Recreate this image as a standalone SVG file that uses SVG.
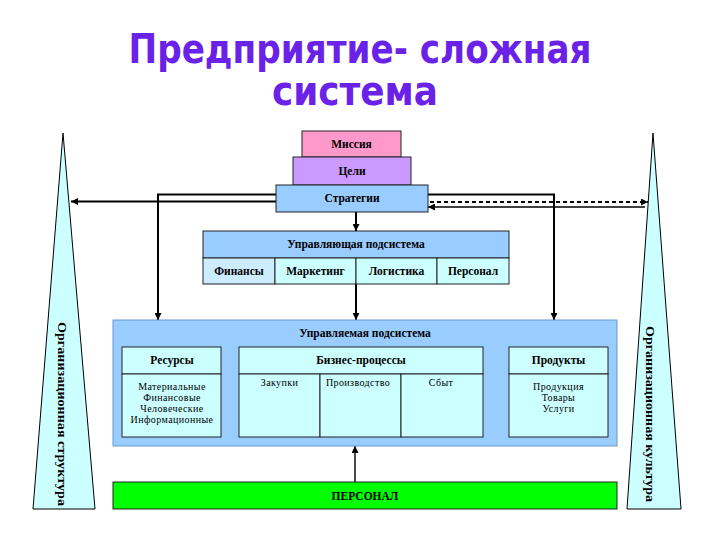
<svg xmlns="http://www.w3.org/2000/svg" width="720" height="540" viewBox="0 0 720 540">
<style>
.t{font-family:"Liberation Serif","Times New Roman",serif;font-weight:bold;font-size:11.5px;fill:#000;text-anchor:middle}
.s{font-family:"Liberation Serif","Times New Roman",serif;font-size:10px;letter-spacing:0.4px;fill:#000;text-anchor:middle}
.title{font-family:"DejaVu Sans","Noto Sans",sans-serif;font-weight:bold;font-size:40px;fill:#6A22E8;text-anchor:middle}
.box{stroke:#222;stroke-width:1}
.ln{fill:none;stroke:#000;stroke-width:2}
.ln1{fill:none;stroke:#000;stroke-width:1.4}
</style>
<defs>
<marker id="ah" viewBox="0 0 10 10" refX="10" refY="5" markerWidth="7" markerHeight="7" markerUnits="userSpaceOnUse" orient="auto">
<path d="M0,0 L10,5 L0,10 z" fill="#000"/>
</marker>
</defs>
<rect width="720" height="540" fill="#fff"/>
<g id="title">
<text class="title" x="360" y="63" textLength="463" lengthAdjust="spacingAndGlyphs">Предприятие- сложная</text>
<text class="title" x="355" y="105" textLength="166" lengthAdjust="spacingAndGlyphs">система</text>
</g>
<g id="org-structure">
<polygon points="63,133 95,509 33,509" fill="#CCFFFF" stroke="#000" stroke-width="1"/>
<text class="t" transform="translate(58,414) rotate(90)" textLength="184" lengthAdjust="spacingAndGlyphs">Организационная структура</text>
</g>
<g id="org-culture">
<polygon points="653,133 681,509 627,509" fill="#CCFFFF" stroke="#000" stroke-width="1"/>
<text class="t" transform="translate(646,414) rotate(90)" textLength="176" lengthAdjust="spacingAndGlyphs">Организационная культура</text>
</g>
<g id="connectors">
<line class="ln" x1="356" y1="212" x2="356" y2="231" marker-end="url(#ah)"/>
<polyline class="ln" points="276,194.5 158,194.5 158,320" marker-end="url(#ah)"/>
<line class="ln" x1="276" y1="201.5" x2="71" y2="201.5" marker-end="url(#ah)"/>
<polyline class="ln" points="428,194.5 554,194.5 554,320" marker-end="url(#ah)"/>
<line class="ln" x1="430" y1="202" x2="648" y2="202" stroke-dasharray="4,3" marker-end="url(#ah)"/>
<line class="ln1" x1="645" y1="207" x2="428" y2="207" marker-end="url(#ah)"/>
<line class="ln" x1="356" y1="284" x2="356" y2="320" marker-end="url(#ah)"/>
<line class="ln1" x1="355" y1="482" x2="355" y2="446" marker-end="url(#ah)"/>
</g>
<g id="mission">
<rect class="box" x="302" y="131" width="99" height="26" fill="#FF99CC"/>
<text class="t" x="351.5" y="148">Миссия</text>
</g>
<g id="goals">
<rect class="box" x="293" y="157" width="118" height="28" fill="#CC99FF"/>
<text class="t" x="352" y="175">Цели</text>
</g>
<g id="strategies">
<rect class="box" x="276" y="185" width="152" height="27" fill="#99CCFF"/>
<text class="t" x="352" y="202">Стратегии</text>
</g>
<g id="managing">
<rect class="box" x="203" y="231" width="306" height="27" fill="#99CCFF"/>
<text class="t" x="356" y="248">Управляющая подсистема</text>
<rect class="box" x="203" y="258" width="72" height="26" fill="#CCECFF"/>
<rect class="box" x="275" y="258" width="81" height="26" fill="#CCFFFF"/>
<rect class="box" x="356" y="258" width="81" height="26" fill="#CCFFFF"/>
<rect class="box" x="437" y="258" width="72" height="26" fill="#CCFFFF"/>
<text class="t" x="239" y="275">Финансы</text>
<text class="t" x="315.5" y="275">Маркетинг</text>
<text class="t" x="396.5" y="275">Логистика</text>
<text class="t" x="473" y="275">Персонал</text>
</g>
<g id="managed">
<rect x="113" y="320" width="504" height="126" fill="#99CCFF" stroke="#6699CC" stroke-width="1"/>
<text class="t" x="365" y="337">Управляемая подсистема</text>
</g>
<g id="resources">
<rect class="box" x="122" y="347" width="99" height="27" fill="#CCFFFF"/>
<rect class="box" x="122" y="374" width="99" height="63" fill="#CCFFFF"/>
<text class="t" x="172" y="364">Ресурсы</text>
<text class="s" x="172" y="390">Материальные</text>
<text class="s" x="172" y="401">Финансовые</text>
<text class="s" x="172" y="412">Человеческие</text>
<text class="s" x="172" y="423">Информационные</text>
</g>
<g id="business">
<rect class="box" x="239" y="347" width="244" height="27" fill="#CCFFFF"/>
<rect class="box" x="239" y="374" width="81" height="63" fill="#CCFFFF"/>
<rect class="box" x="320" y="374" width="81" height="63" fill="#CCFFFF"/>
<rect class="box" x="401" y="374" width="82" height="63" fill="#CCFFFF"/>
<text class="t" x="361" y="364">Бизнес-процессы</text>
<text class="s" x="279.5" y="386">Закупки</text>
<text class="s" x="358" y="386">Производство</text>
<text class="s" x="441" y="386">Сбыт</text>
</g>
<g id="products">
<rect class="box" x="509" y="347" width="99" height="27" fill="#CCFFFF"/>
<rect class="box" x="509" y="374" width="99" height="63" fill="#CCFFFF"/>
<text class="t" x="558.5" y="364">Продукты</text>
<text class="s" x="558.5" y="390">Продукция</text>
<text class="s" x="558.5" y="401">Товары</text>
<text class="s" x="558.5" y="412">Услуги</text>
</g>
<g id="personnel">
<rect class="box" x="113" y="482" width="504" height="27" fill="#00FF00"/>
<text class="t" x="365" y="500" fill="#1A2A1A">ПЕРСОНАЛ</text>
</g>
</svg>
